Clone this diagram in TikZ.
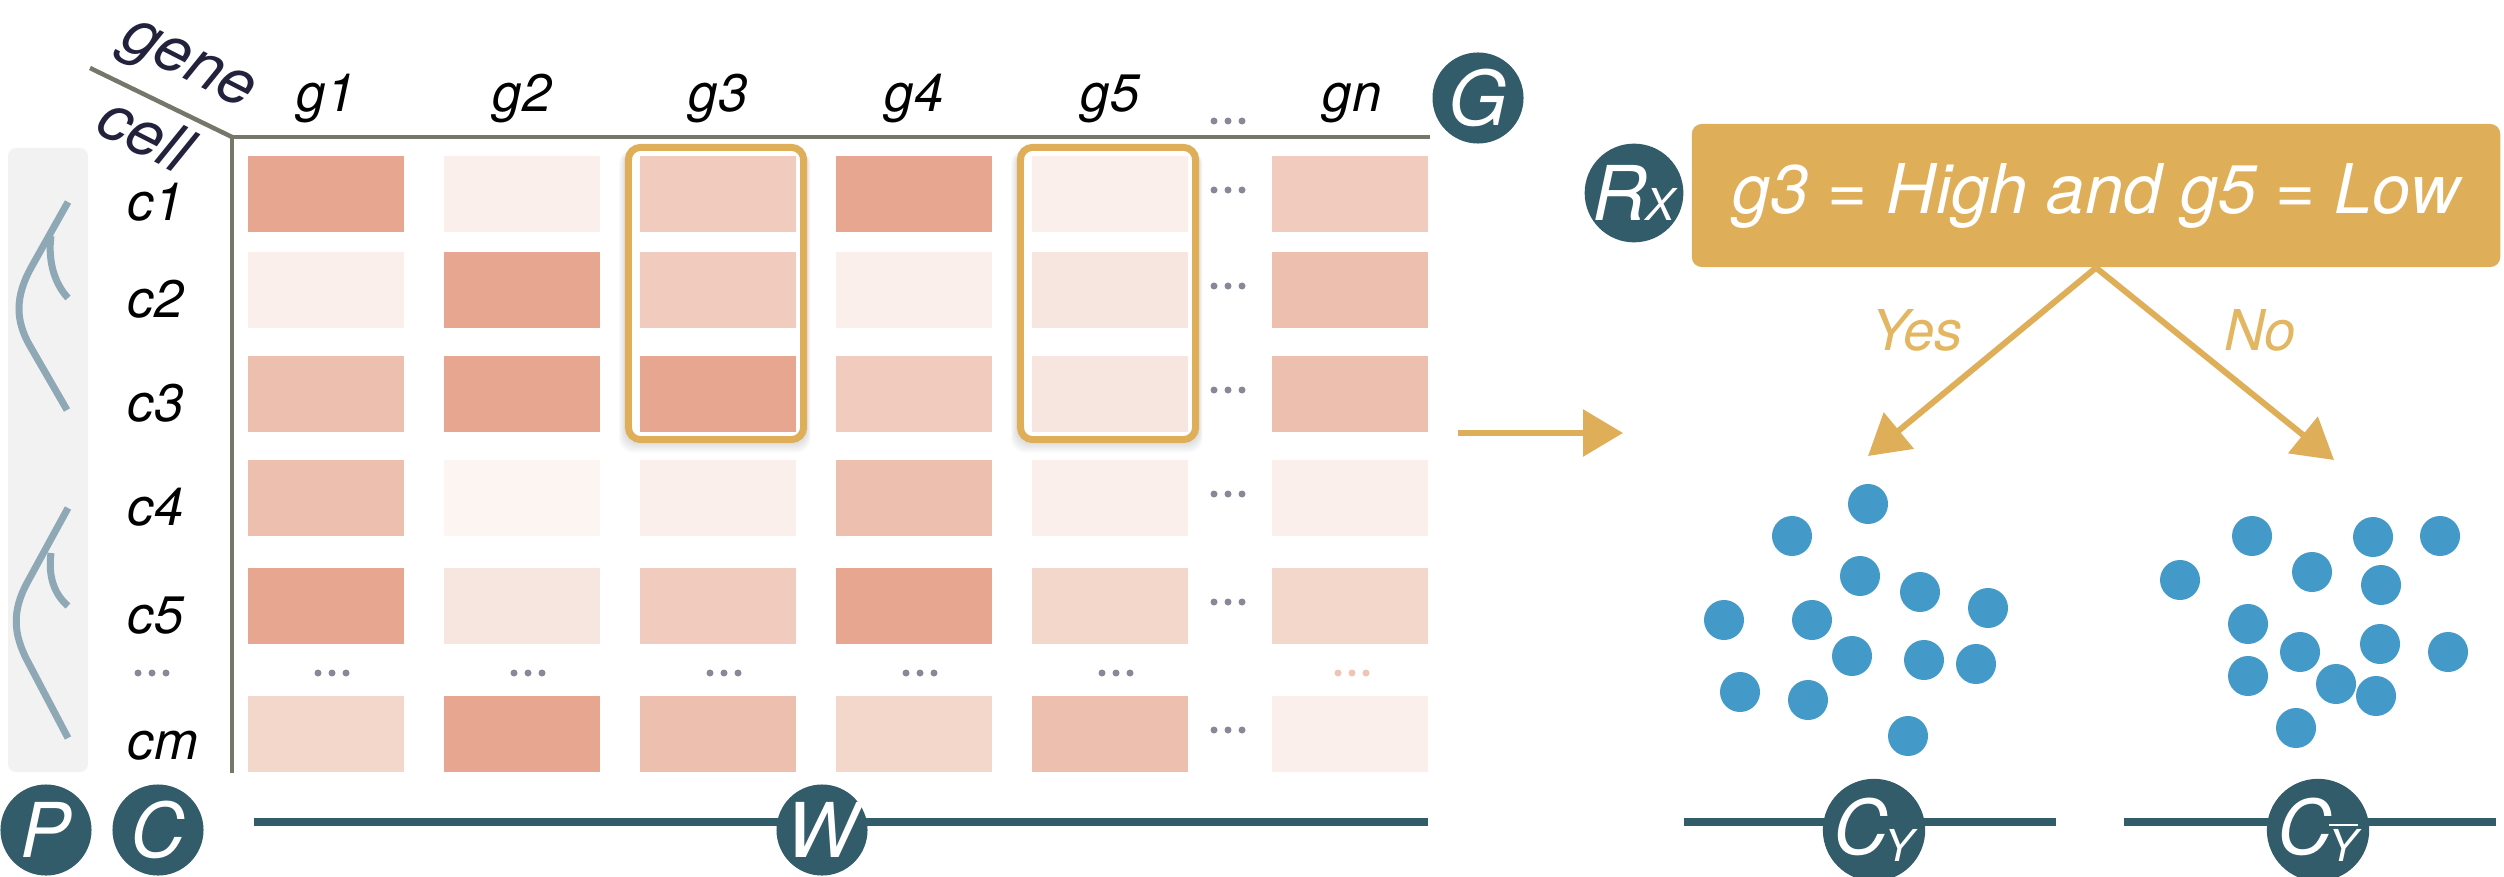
\documentclass[tikz,border=0pt]{standalone}
\usepackage{fontspec}
\setmainfont{TeX Gyre Heros}
\usetikzlibrary{arrows.meta}
\definecolor{dteal}{HTML}{325C6A}
\definecolor{gold}{HTML}{DFAE58}
\definecolor{goldtxt}{HTML}{E3B662}
\definecolor{axisgray}{HTML}{76766A}
\definecolor{dotgray}{HTML}{8A8898}
\definecolor{treeblue}{HTML}{8EA8B6}
\definecolor{panelgray}{HTML}{F2F2F2}
\definecolor{navy}{HTML}{23223C}
\definecolor{ptblue}{HTML}{4399C8}
\definecolor{cA}{HTML}{E6A68F}
\definecolor{cB}{HTML}{EDBFAF}
\definecolor{cC}{HTML}{F0CBBE}
\definecolor{cD}{HTML}{F3D7CB}
\definecolor{cE}{HTML}{F7E6DF}
\definecolor{cF}{HTML}{FAEFEB}
\definecolor{cG}{HTML}{FCF5F2}
\definecolor{pinkdot}{HTML}{F0C4B2}
\newcommand{\threedots}[3]{%
  \fill[#3] (#1-14,#2) circle[radius=0.035cm];
  \fill[#3] (#1,#2) circle[radius=0.035cm];
  \fill[#3] (#1+14,#2) circle[radius=0.035cm];}
\tikzset{
  cellbox/.style={rectangle, minimum width=1.56cm, minimum height=0.76cm, inner sep=0, draw=none},
  hlbox/.style={rectangle, draw=gold, line width=0.07cm, rounded corners=0.12cm, fill=white,
    minimum width=1.75cm, minimum height=2.92cm, inner sep=0},
  badge/.style={circle, fill=dteal, minimum size=0.91cm, inner sep=0, text=white,
    font=\fontsize{21.5}{24}\selectfont\itshape},
  lab/.style={font=\fontsize{15}{17}\selectfont\itshape, text=black, inner sep=0},
  axislabel/.style={font=\fontsize{18}{20}\selectfont\itshape, text=navy, inner sep=0, rotate=-27},
  axisline/.style={draw=axisgray, line width=0.045cm},
  treeline/.style={draw=treeblue, line width=0.07cm},
  bottomline/.style={draw=dteal, line width=0.08cm},
  goldarrow/.style={draw=gold, line width=0.06cm, -{Triangle[length=0.4cm, width=0.46cm]}},
  rulebox/.style={rectangle, fill=gold, rounded corners=0.1cm, minimum width=8.08cm,
    minimum height=1.43cm, text=white, inner sep=0, font=\fontsize{19.5}{22}\selectfont\itshape},
  answer/.style={font=\fontsize{16}{18}\selectfont\itshape, text=goldtxt, inner sep=0},
}
\begin{document}
\begin{tikzpicture}[x=0.01cm, y=-0.01cm]
\useasboundingbox (0,0) rectangle (2504,876);

% left panel with trees
\fill[panelgray, rounded corners=0.08cm] (8,148) rectangle (88,772);
\draw[treeline] (68,202) -- (32,266) .. controls (15,296) and (15,320) .. (30,346) -- (67,410);
\draw[treeline] (51,236) .. controls (48,258) and (53,282) .. (68,298);
\draw[treeline] (68,508) -- (27,583) .. controls (12,611) and (13,634) .. (28,662) -- (68,738);
\draw[treeline] (51,553) .. controls (48,576) and (54,594) .. (68,606);

% axes
\coordinate (diagEnd) at (90,68);
\coordinate (corner) at (232,137);
\coordinate (hEnd) at (1430,137);
\coordinate (vEnd) at (232,773);
\draw[axisline] (diagEnd) -- (corner);
\draw[axisline] (corner) -- (hEnd);
\draw[axisline] (corner) -- (vEnd);
\node[axislabel] (gene) at (186,69) {gene};
\node[axislabel] (cell) at (146,133) {cell};

% column headers
\node[lab, anchor=base] (h1) at (326,112) {g1};
\node[lab, anchor=base] (h2) at (522,112) {g2};
\node[lab, anchor=base] (h3) at (718,112) {g3};
\node[lab, anchor=base] (h4) at (914,112) {g4};
\node[lab, anchor=base] (h5) at (1110,112) {g5};
\node[lab, anchor=base] (hn) at (1352,112) {gn};
\threedots{1228}{121}{dotgray}

% row labels
\node[lab, anchor=base west] (r1) at (127,221) {c1};
\node[lab, anchor=base west] (r2) at (127,317) {c2};
\node[lab, anchor=base west] (r3) at (127,421) {c3};
\node[lab, anchor=base west] (r4) at (127,525) {c4};
\node[lab, anchor=base west] (r5) at (127,633) {c5};
\node[lab, anchor=base west] (rm) at (127,759) {cm};
\threedots{152}{673}{dotgray}

% highlight shadows and boxes
\foreach \s in {1,...,6}{
  \fill[black, opacity=0.02, rounded corners=0.14cm] (625-\s,150) rectangle (807+\s*0.6,443+\s*1.6);
  \fill[black, opacity=0.02, rounded corners=0.14cm] (1017-\s,150) rectangle (1199+\s*0.6,443+\s*1.6);
}
\node[hlbox] (hl3) at (716,293.5) {};
\node[hlbox] (hl5) at (1108,293.5) {};

% cells
\foreach \r/\yc/\cl in {
  1/194/{cA,cF,cC,cA,cF,cC},
  2/290/{cF,cA,cC,cF,cE,cB},
  3/394/{cB,cA,cA,cC,cE,cB},
  4/498/{cB,cG,cF,cB,cF,cF},
  5/606/{cA,cE,cC,cA,cD,cD},
  6/734/{cD,cA,cB,cD,cB,cF}}{
  \foreach \col [count=\i] in \cl {
    \pgfmathsetmacro{\xc}{{326,522,718,914,1110,1350}[\i-1]}
    \node[cellbox, fill=\col] (cell-\r-\i) at (\xc,\yc) {};
  }
  \threedots{1228}{\yc-4}{dotgray}
}
% column dots row
\foreach \xc in {332,528,724,920,1116}{ \threedots{\xc}{673}{dotgray} }
\threedots{1352}{673}{pinkdot}

% bottom badges
\coordinate (wl) at (254,822);
\coordinate (wr) at (1428,822);
\draw[bottomline] (wl) -- (wr);
\node[badge] (P) at (46,830) {P};
\node[badge] (C) at (158,830) {C};
\node[badge] (W) at (822,830) {W};
\node[badge] (G) at (1478,98) {G};

% main arrow
\coordinate (ma1) at (1458,433);
\coordinate (ma2) at (1623,433);
\draw[goldarrow] (ma1) -- (ma2);

% rule
\node[rulebox] (rule) at (2096,195.5) {g3 = High and g5 = Low};
\node[badge] (rx) at (1634,193) {R\kern-0.5pt{\fontsize{12.5}{12}\selectfont X}};
\coordinate (yesT) at (1868,456);
\coordinate (noT) at (2334,460);
\draw[goldarrow] (rule.south) -- (yesT);
\draw[goldarrow] (rule.south) -- (noT);
\node[answer] (yes) at (1917,330) {Yes};
\node[answer] (no) at (2260,330) {No};

% clusters
\foreach \x/\y in {1868/504,1792/536,1860/576,1920/592,1988/608,1724/620,1812/620,1852/656,1924/660,1976/664,1740/692,1808/700,1908/736}{
  \fill[ptblue] (\x,\y) circle[radius=0.2cm];
}
\foreach \x/\y in {2252/536,2373/537,2440/536,2180/580,2312/572,2381/585,2248/624,2300/652,2380/644,2448/652,2248/676,2336/684,2376/696,2296/728}{
  \fill[ptblue] (\x,\y) circle[radius=0.2cm];
}

% cluster badges
\coordinate (cyl) at (1684,822);
\coordinate (cyr) at (2056,822);
\draw[bottomline] (cyl) -- (cyr);
\coordinate (cnl) at (2124,822);
\coordinate (cnr) at (2496,822);
\draw[bottomline] (cnl) -- (cnr);
\node[badge] (cy) at (1874,830) {C\kern-1pt{\fontsize{12.5}{12}\selectfont\raisebox{-2pt}{Y}}};
\node[badge] (cn) at (2318,830) {C\kern-1pt{\fontsize{12.5}{12}\selectfont\raisebox{-2pt}{$\overline{\mbox{\itshape Y}}$}}};
\end{tikzpicture}
\end{document}
